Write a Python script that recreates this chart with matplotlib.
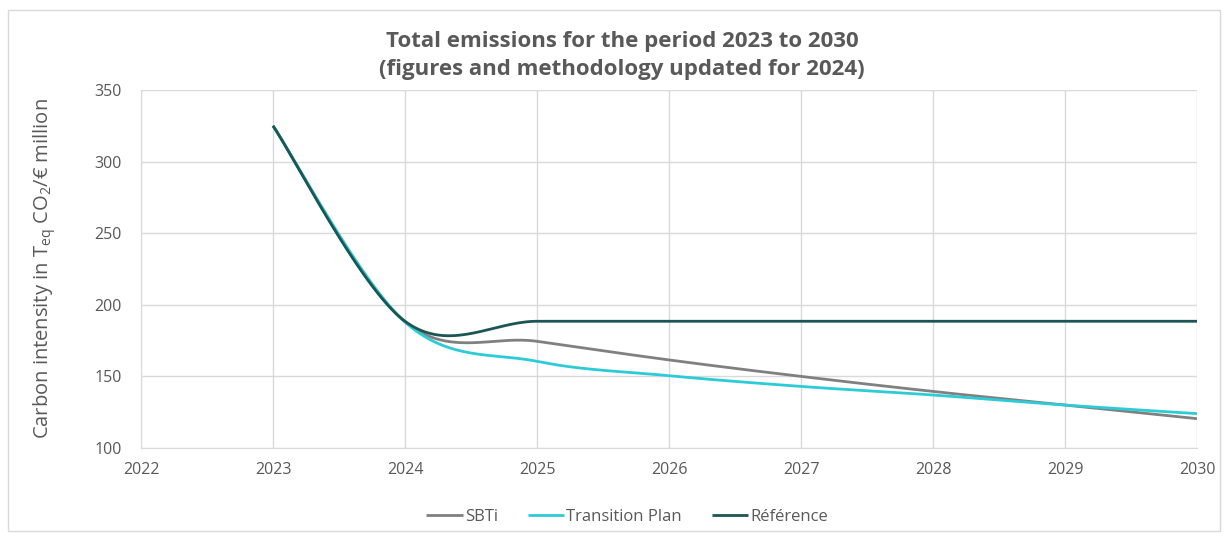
import numpy as np
import matplotlib
matplotlib.use("Agg")
import matplotlib.pyplot as plt
from matplotlib.patches import Rectangle

plt.rcParams['font.family'] = ['Open Sans', 'DejaVu Sans']
plt.rcParams['mathtext.fontset'] = 'custom'
plt.rcParams['mathtext.rm'] = 'Open Sans'
plt.rcParams['mathtext.it'] = 'Open Sans'

years = [2023, 2024, 2025, 2026, 2027, 2028, 2029, 2030]
sbti = [325, 188, 174.5, 161.5, 150, 139.5, 130, 120.5]
transition = [325, 188, 160.5, 150.5, 143, 137, 130, 124]
reference = [325, 188.5, 188.5, 188.5, 188.5, 188.5, 188.5, 188.5]

series_names = ["SBTi", "Transition Plan", "Référence"]
series_colors = ["#808080", "#2ccbd8", "#1b5654"]


def excel_smooth(xs, ys, n=60):
    """Bezier smoothing like spreadsheet 'smoothed line' rendering."""
    P = np.column_stack([xs, ys]).astype(float)
    m = len(P)
    out = []
    for i in range(m - 1):
        p0 = P[max(i - 1, 0)]
        p1 = P[i]
        p2 = P[i + 1]
        p3 = P[min(i + 2, m - 1)]
        c1 = p1 + (p2 - p0) / 6.0
        c2 = p2 - (p3 - p1) / 6.0
        t = np.linspace(0, 1, n)[:, None]
        seg = ((1 - t) ** 3) * p1 + 3 * ((1 - t) ** 2) * t * c1 + 3 * (1 - t) * t ** 2 * c2 + t ** 3 * p2
        out.append(seg if i == 0 else seg[1:])
    out = np.vstack(out)
    return out[:, 0], out[:, 1]


fig = plt.figure(figsize=(12.24, 5.37), dpi=100)
W, H = 1224, 537
ax = fig.add_axes([141 / W, 1 - 448 / H, (1197 - 141) / W, (448 - 90) / H])

for name, vals, col in zip(series_names, [sbti, transition, reference], series_colors):
    sx, sy = excel_smooth(years, vals)
    ax.plot(sx, sy, color=col, lw=2.0, label=name, solid_capstyle='butt')

ax.set_xlim(2022, 2030)
ax.set_ylim(100, 350)
ax.set_xticks(range(2022, 2031))
ax.set_yticks(range(100, 351, 50))
ax.grid(True, color="#d9d9d9", lw=1.0)
ax.set_axisbelow(True)
for s in ['top', 'right']:
    ax.spines[s].set_visible(False)
for s in ['left', 'bottom']:
    ax.spines[s].set_color("#d9d9d9")
ax.tick_params(length=0, labelsize=11.5, labelcolor="#595959", pad=10)
ax.tick_params(axis='y', pad=14)

ax.set_ylabel("Carbon intensity in T$_{\\mathrm{eq}}$ CO$_{2}$/€ million",
              fontsize=14.5, color="#595959", labelpad=26)

fig.text(622 / W, 1 - 42 / H, "Total emissions for the period 2023 to 2030",
         ha='center', va='center', fontsize=16, fontweight='bold', color="#595959")
fig.text(622 / W, 1 - 70 / H, "(figures and methodology updated for 2024)",
         ha='center', va='center', fontsize=16, fontweight='bold', color="#595959")

leg = fig.legend(loc='center', bbox_to_anchor=(627 / W, 1 - 517 / H), ncol=3,
                 frameon=False, fontsize=12, handlelength=2.2, handletextpad=0.1,
                 columnspacing=1.8)
for t in leg.get_texts():
    t.set_color("#595959")

fig.patches.append(Rectangle((8 / W, 6 / H), (W - 12) / W, (H - 16) / H,
                             transform=fig.transFigure, fill=False,
                             edgecolor="#d9d9d9", lw=1.0))

fig.savefig("out.png", dpi=100)
